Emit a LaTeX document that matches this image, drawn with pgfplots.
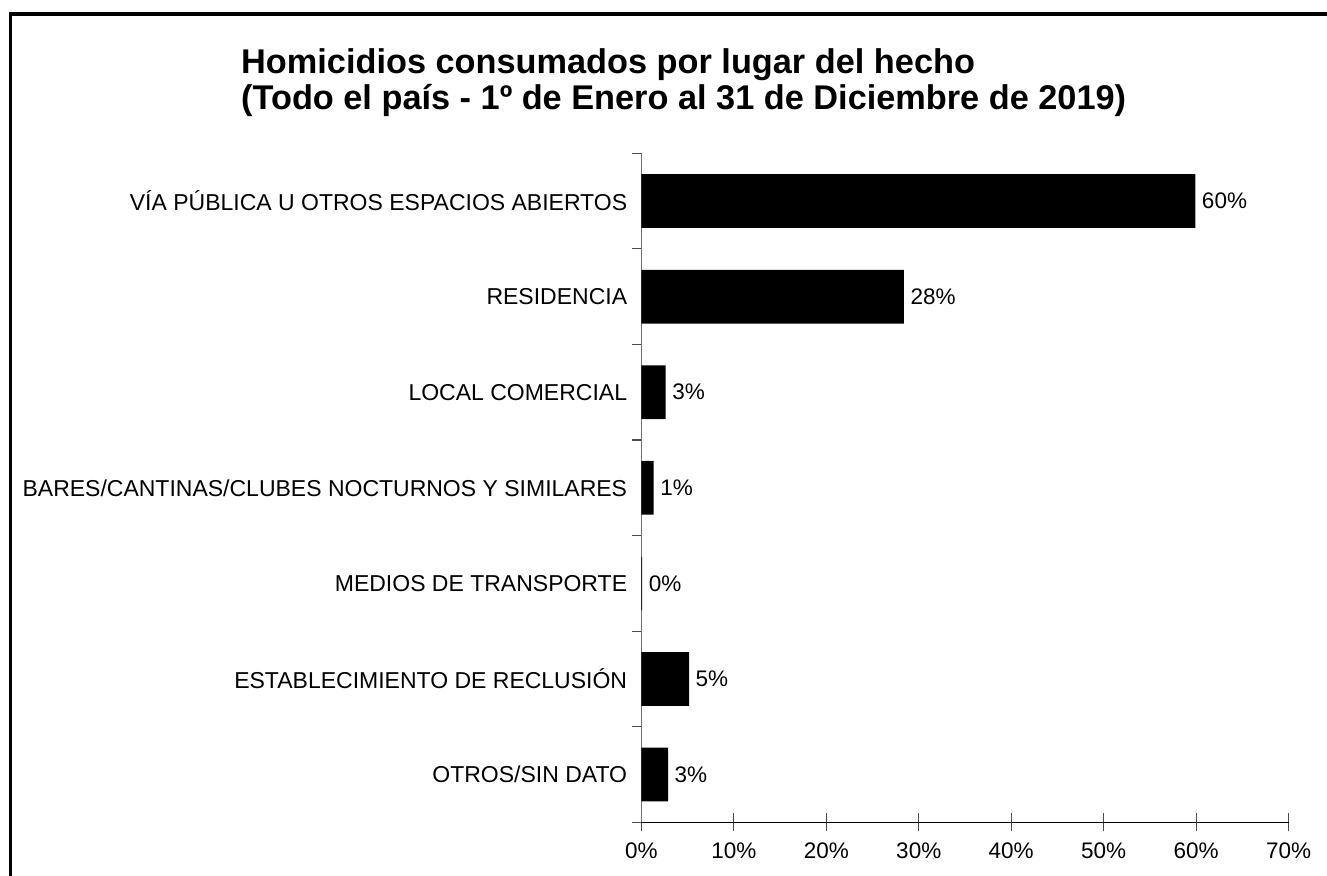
\documentclass[border=0pt]{standalone}
\usepackage{pgfplots}
\pgfplotsset{compat=1.18}
\usepackage{pgfplotstable}
\usepackage{fontspec}
\setmainfont{Liberation Sans}
\pgfplotstableread{
idx val lab
0 59.9 60
1 28.4 28
2 2.63 3
3 1.34 1
4 0.1 0
5 5.16 5
6 2.89 3
}\datatable
\begin{document}
\begin{tikzpicture}[x=1pt,y=1pt]
\useasboundingbox (0,0) rectangle (1327,875);
\draw[line width=3.2pt] (10.5,-2) -- (10.5,861) -- (1330,861);
\node[anchor=base west, inner sep=0pt, font=\fontsize{34.3}{36}\bfseries\selectfont] at (241,801) {Homicidios consumados por lugar del hecho};
\node[anchor=base west, inner sep=0pt, font=\fontsize{34.3}{36}\bfseries\selectfont] at (241,765) {(Todo el país - 1º de Enero al 31 de Diciembre de 2019)};
\begin{axis}[
  at={(641.3pt,52.7pt)}, anchor=south west,
  scale only axis, width=647.4pt, height=669pt,
  xmin=0, xmax=70, ymin=-0.5, ymax=6.5, y dir=reverse,
  xbar, bar width=53.7pt,
  axis x line=bottom, axis y line=left,
  x axis line style={-, black, line width=1.3pt},
  y axis line style={-, black!55, line width=1.3pt},
  xtick={0,10,...,70},
  xticklabels={0\%,10\%,20\%,30\%,40\%,50\%,60\%,70\%},
  xtick align=center, major tick length=18pt,
  every major x tick/.style={black!70, line width=1.1pt},
  ytick={0,...,6},
  yticklabels={VÍA PÚBLICA U OTROS ESPACIOS ABIERTOS, RESIDENCIA, LOCAL COMERCIAL, BARES/CANTINAS/CLUBES NOCTURNOS Y SIMILARES, MEDIOS DE TRANSPORTE, ESTABLECIMIENTO DE RECLUSIÓN, OTROS/SIN DATO},
  minor ytick={-0.5,0.5,...,6.5},
  ytick align=outside, minor tick length=9pt,
  every major y tick/.style={draw=none},
  every minor y tick/.style={black!70, line width=1.1pt},
  xticklabel style={font=\fontsize{22.5}{27}\selectfont, inner sep=0pt, yshift=-11pt},
  yticklabel style={font=\fontsize{23}{27}\selectfont, inner sep=0pt, xshift=4pt},
  nodes near coords={\pgfplotspointmeta\%},
  point meta=explicit symbolic,
  every node near coord/.append style={font=\fontsize{22.5}{27}\selectfont, anchor=west, inner sep=0pt, xshift=6.5pt},
  clip=false,
]
\addplot[fill=black, draw=none] table[x=val, y=idx, meta=lab] {\datatable};
\end{axis}
\end{tikzpicture}
\end{document}
